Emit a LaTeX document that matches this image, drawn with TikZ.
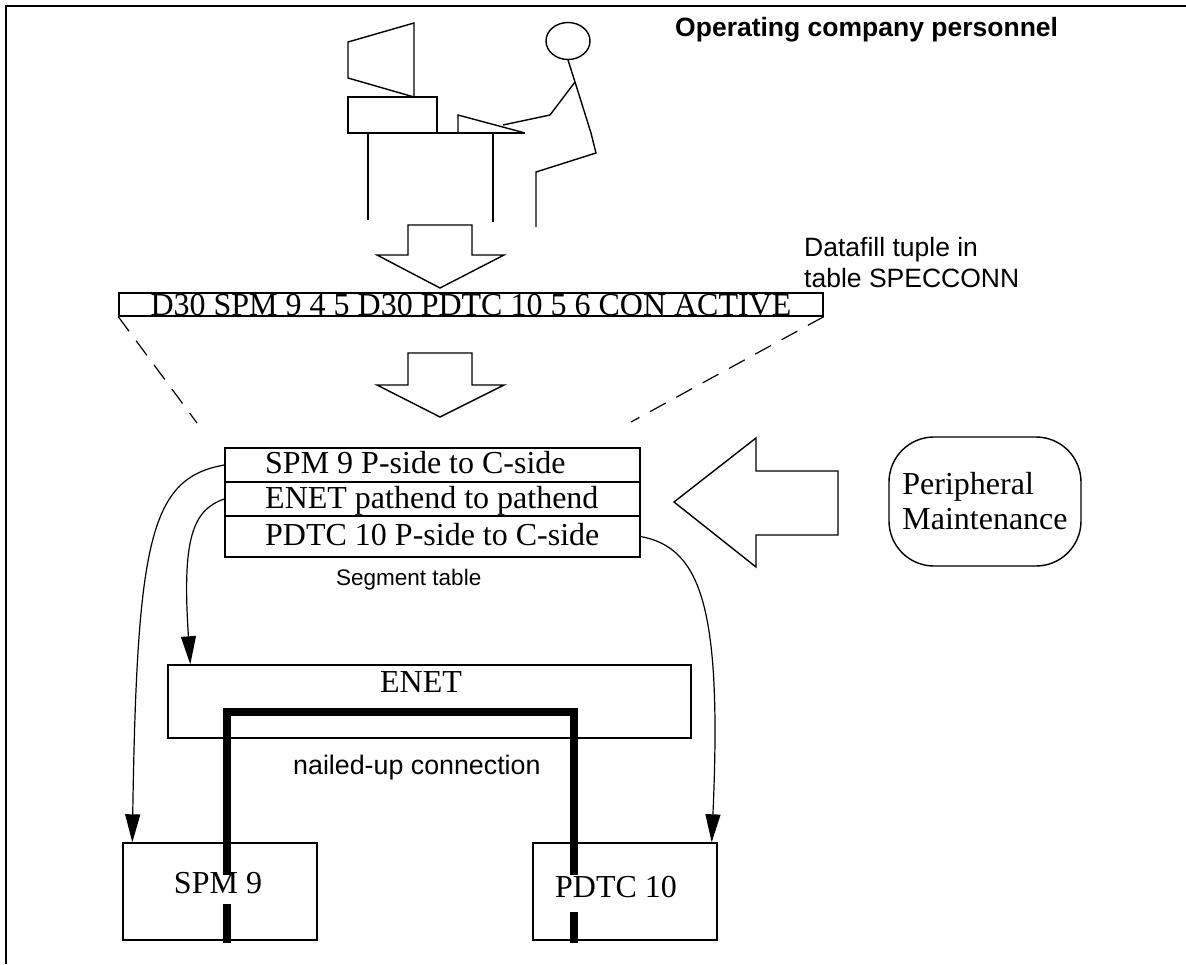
\documentclass[tikz,border=0pt]{standalone}
\usepackage{fontspec}
\setmainfont{Liberation Serif}
\setsansfont{Liberation Sans}
\usetikzlibrary{arrows.meta}

\begin{document}
\begin{tikzpicture}[x=1pt, y=-1pt, line join=miter,
  pen/.style={line width=1.4pt},
  serif/.style={font=\fontsize{32}{35}\selectfont},
  sanslabel/.style={font=\sffamily\fontsize{26.5}{31}\selectfont, inner sep=0pt},
  box/.style={draw, pen, inner sep=0pt},
  rowbox/.style={box, minimum width=415pt},
  rowtext/.style={serif, anchor=base west, inner sep=0pt},
  blockarrow/.style={draw, pen, fill=white},
  link/.style={line width=1.2pt, -{Triangle[length=28pt,width=15pt]}},
  guide/.style={line width=1.2pt, dash pattern=on 18pt off 12pt},
  nailed/.style={line width=8pt, line cap=butt}
]
\useasboundingbox (0,0) rectangle (1186,964);

% frame edges
\draw[line width=2pt] (6,964) -- (6,6) -- (1186,6);

% workstation: monitor, cabinet, desk, keyboard
\draw[pen] (348,42) -- (414,23) -- (414,97) -- (348,78) -- cycle;
\draw[pen] (348,97) rectangle (437,133);
\draw[pen] (348,133) -- (525,133);
\draw[pen] (458,133) -- (458,115) -- (525,133);
\draw[pen] (368,133) -- (368,220);
\draw[pen] (493,133) -- (493,222);

% seated operator
\draw[pen] (568,41) ellipse [x radius=22, y radius=18.5];
\draw[pen] (568,60) -- (575,82) -- (591,133) -- (596,153) -- (536,172) -- (536,227);
\draw[pen] (575,82) -- (550,115) -- (503,125);

\node[sanslabel, font=\sffamily\bfseries\fontsize{26.5}{31}\selectfont, anchor=base west]
  (oper) at (675,36) {Operating company personnel};

% downward block arrows
\draw[blockarrow] (408,225) -- (472,225) -- (472,255) -- (504,255) -- (440,288)
  -- (377,255) -- (408,255) -- cycle;
\draw[blockarrow] (408,353) -- (472,353) -- (472,385) -- (504,385) -- (440,417)
  -- (377,385) -- (408,385) -- cycle;

% tuple
\node[box, serif, minimum width=704pt, minimum height=23pt, text height=21pt,
  text depth=0pt, inner ysep=1pt] (tuple) at (471,304.5)
  {D30 SPM 9 4 5 D30 PDTC 10 5 6 CON ACTIVE};
\draw[line width=1.4pt] (tuple.south west) -- (tuple.south east);
\node[sanslabel, anchor=base west] (dtf1) at (804,256) {Datafill tuple in};
\node[sanslabel, anchor=base west] (dtf2) at (804,287) {table SPECCONN};

\coordinate (gl) at (197,423);
\coordinate (gr) at (631,422);
\draw[guide] (tuple.south west) -- (gl);
\draw[guide] (tuple.south east) -- (gr);

% segment table
\node[rowbox, minimum height=34pt] (r1) at (432.5,465) {};
\node[rowbox, minimum height=34pt] (r2) at (432.5,499) {};
\node[rowbox, minimum height=41pt] (r3) at (432.5,536.5) {};
\node[rowtext] (t1) at (265,473) {SPM 9 P-side to C-side};
\node[rowtext] (t2) at (265,508) {ENET pathend to pathend};
\node[rowtext] (t3) at (265,545) {PDTC 10 P-side to C-side};
\node[sanslabel, font=\sffamily\fontsize{22.5}{26}\selectfont, anchor=base west]
  (seg) at (336,585) {Segment table};

% maintenance input
\draw[blockarrow] (674,502) -- (756,438) -- (756,471) -- (838,471) -- (838,535)
  -- (756,535) -- (756,567) -- cycle;
\node[draw, pen, serif, rounded corners=45pt, minimum width=192pt, minimum height=129pt,
  align=left, inner sep=0pt] (pm) at (985,501.5) {Peripheral\\Maintenance};

% network and peripherals
\node[box, minimum width=523pt, minimum height=73pt] (enet) at (429.5,701.5) {};
\node[serif, anchor=base, inner sep=0pt] (enetlbl) at (421,692) {ENET};
\node[box, minimum width=194pt, minimum height=97pt] (spm) at (220,891.5) {};
\node[box, minimum width=184pt, minimum height=97pt] (pdtc) at (625,891.5) {};

% nailed-up connection through the network
\draw[nailed] (227,875) -- (227,712) -- (574,712) -- (574,875);
\node[serif, anchor=base, inner sep=0pt] (spmlbl) at (218,893) {SPM 9};
\node[serif, anchor=base, inner sep=0pt] (pdtclbl) at (616,897) {PDTC 10};
\draw[nailed] (227,904) -- (227,943);
\draw[nailed] (574,912) -- (574,943);
\node[sanslabel, font=\sffamily\fontsize{26.8}{30}\selectfont, anchor=base west]
  (nail) at (293,774) {nailed-up connection};

% segment-to-equipment links
\draw[link] (r1.west) .. controls (150,478) and (137,540) .. ([xshift=10pt]spm.north west);
\draw[link] (r2.west) .. controls (192,510) and (182,540) .. ([xshift=23pt]enet.north west);
\draw[link] (r3.east) .. controls (702,548) and (722,610) .. ([xshift=-6pt]pdtc.north east);
\end{tikzpicture}
\end{document}
